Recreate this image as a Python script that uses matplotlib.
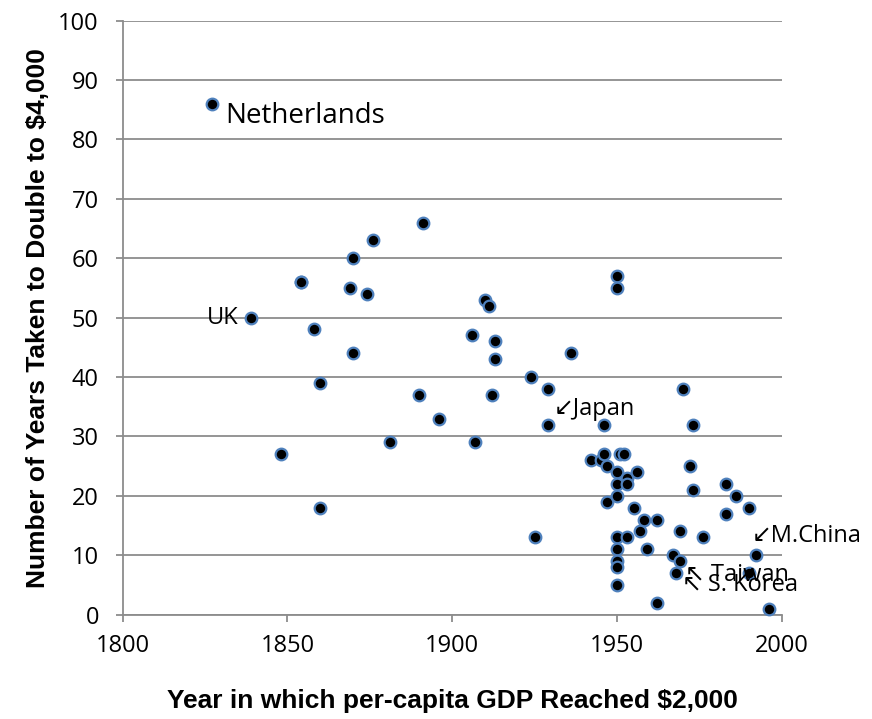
import numpy as np
import matplotlib.pyplot as plt

# year per-capita GDP reached $2,000 vs years taken to double to $4,000
years = [1827, 1839, 1848, 1854, 1854, 1858, 1860, 1860, 1869, 1870, 1870, 1874,
         1876, 1881, 1890, 1891, 1896, 1906, 1907, 1910, 1911, 1912, 1913, 1913,
         1924, 1925, 1929, 1929, 1936, 1942, 1945, 1946, 1946, 1947, 1947, 1950,
         1950, 1950, 1950, 1950, 1950, 1950, 1950, 1950, 1950, 1951, 1952, 1953,
         1953, 1953, 1955, 1956, 1957, 1958, 1959, 1962, 1962, 1967, 1968, 1969,
         1969, 1970, 1972, 1973, 1973, 1976, 1983, 1983, 1986, 1990, 1990, 1992,
         1996]
doubling = [86, 50, 27, 56, 56, 48, 39, 18, 55, 60, 44, 54,
            63, 29, 37, 66, 33, 47, 29, 53, 52, 37, 46, 43,
            40, 13, 38, 32, 44, 26, 26, 27, 32, 25, 19, 57,
            55, 24, 22, 20, 13, 11, 9, 8, 5, 27, 27, 23,
            22, 13, 18, 24, 14, 16, 11, 16, 2, 10, 7, 9,
            14, 38, 25, 21, 32, 13, 22, 17, 20, 18, 7, 10,
            1]

# labelled countries: (name, year, value, offset in pixels, alignment, size)
labels = [
    ("Netherlands", 1827, 86, (14, -12), "left", 20),
    ("UK", 1839, 50, (-13, 0), "right", 17),
    ("\u2199Japan", 1929, 32, (6, 16), "left", 17),
    ("\u2199M.China", 1992, 10, (-4, 19), "left", 17),
    ("\u2196 Taiwan", 1969, 9, (5, -14), "left", 17),
    ("\u2196 S. Korea", 1968, 7, (6, -12), "left", 17),
]

fam = ["Open Sans", "DejaVu Sans"]
lab_font = {"family": ["Liberation Sans"], "weight": "bold", "size": 19}

fig = plt.figure(figsize=(8.72, 7.19), dpi=100)
ax = fig.add_axes([122.5 / 872, 1 - 614.6 / 719, (782 - 122.5) / 872, (614.6 - 20.6) / 719])

ax.scatter(years, doubling, s=70, c="black", edgecolors="#4F81BD",
           linewidths=1.6, zorder=3, clip_on=False)

for name, x, y, off, ha, fs in labels:
    ax.annotate(name, xy=(x, y), xytext=off, textcoords="offset pixels",
                ha=ha, va="center", fontsize=fs, family=fam, color="black")

ax.set_xlim(1800, 2000)
ax.set_ylim(0, 100)
ax.set_xticks(np.arange(1800, 2001, 50))
ax.set_yticks(np.arange(0, 101, 10))
ax.grid(axis="y", color="#8C8C8C", linewidth=1.3)
ax.set_axisbelow(True)

for s in ["top", "right"]:
    ax.spines[s].set_visible(False)
for s in ["left", "bottom"]:
    ax.spines[s].set_color("#8C8C8C")
    ax.spines[s].set_linewidth(1.3)

ax.tick_params(axis="both", direction="out", length=5, width=1.3, color="#8C8C8C",
               labelsize=17)
ax.tick_params(axis="y", pad=12)
ax.tick_params(axis="x", pad=9)
for t in ax.get_xticklabels() + ax.get_yticklabels():
    t.set_family(fam)

ax.set_xlabel("Year in which per-capita GDP Reached $2,000", fontdict=lab_font, labelpad=22)
ax.set_ylabel("Number of Years Taken to Double to $4,000", fontdict=lab_font, labelpad=6)

fig.savefig("out.png", dpi=100)
